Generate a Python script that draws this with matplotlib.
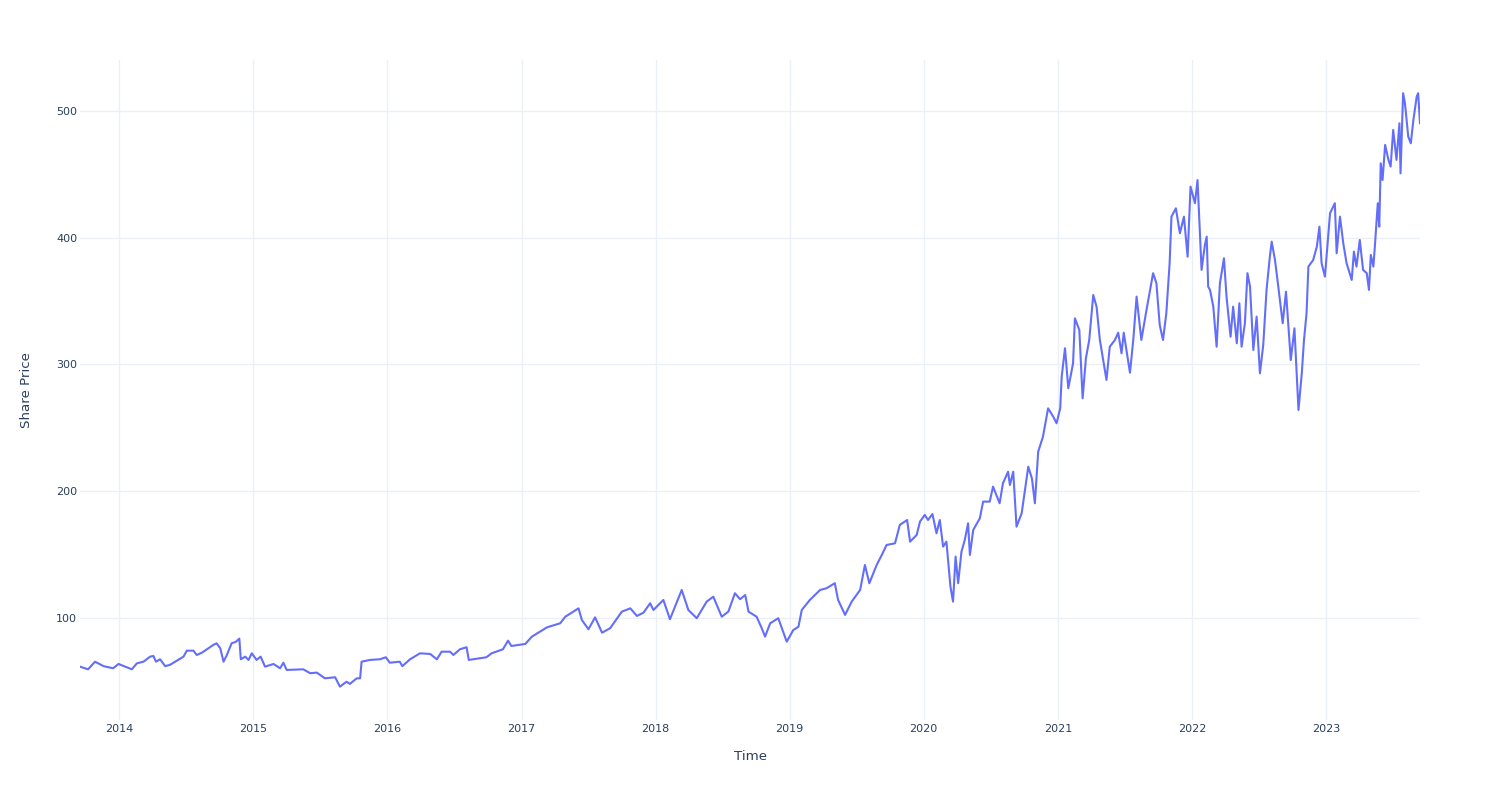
import matplotlib
matplotlib.use("Agg")
import matplotlib.pyplot as plt
import pandas as pd

dates = [
    "2013-09-16", "2013-10-08", "2013-10-27", "2013-11-19", "2013-12-15", "2013-12-30",
    "2014-02-04", "2014-02-18", "2014-03-08", "2014-03-26", "2014-04-04", "2014-04-11",
    "2014-04-22", "2014-05-06", "2014-05-19", "2014-06-25", "2014-07-04", "2014-07-22",
    "2014-07-31", "2014-08-14", "2014-09-14", "2014-09-23", "2014-10-03", "2014-10-12",
    "2014-10-21", "2014-11-03", "2014-11-15", "2014-11-24", "2014-11-28", "2014-12-10",
    "2014-12-19", "2014-12-28",
    "2015-01-10", "2015-01-21", "2015-02-02", "2015-02-25", "2015-03-15", "2015-03-24",
    "2015-04-02", "2015-05-17", "2015-06-05", "2015-06-23", "2015-07-15", "2015-08-12",
    "2015-08-25", "2015-09-12", "2015-09-21", "2015-10-10", "2015-10-19", "2015-10-23",
    "2015-11-15", "2015-12-12", "2015-12-28",
    "2016-01-08", "2016-02-04", "2016-02-11", "2016-03-03", "2016-03-30", "2016-04-27",
    "2016-05-15", "2016-05-28", "2016-06-20", "2016-06-29", "2016-07-17", "2016-08-04",
    "2016-08-10", "2016-09-27", "2016-10-11", "2016-11-11", "2016-11-25", "2016-12-04",
    "2017-01-11", "2017-01-29", "2017-03-11", "2017-04-16", "2017-04-30", "2017-06-05",
    "2017-06-14", "2017-07-02", "2017-07-20", "2017-08-08", "2017-08-30", "2017-10-01",
    "2017-10-24", "2017-11-11", "2017-11-29", "2017-12-17", "2017-12-26",
    "2018-01-22", "2018-02-09", "2018-03-13", "2018-03-31", "2018-04-23", "2018-05-20",
    "2018-06-07", "2018-06-30", "2018-07-18", "2018-08-05", "2018-08-19", "2018-09-02",
    "2018-09-11", "2018-10-03", "2018-10-17", "2018-10-26", "2018-11-09", "2018-12-01",
    "2018-12-24",
    "2019-01-11", "2019-01-25", "2019-02-03", "2019-02-25", "2019-03-25", "2019-04-11",
    "2019-05-04", "2019-05-13", "2019-06-01", "2019-06-19", "2019-07-12", "2019-07-25",
    "2019-08-06", "2019-08-26", "2019-09-09", "2019-09-22", "2019-10-15", "2019-10-28",
    "2019-11-17", "2019-11-25", "2019-12-13", "2019-12-22",
    "2020-01-04", "2020-01-13", "2020-01-25", "2020-02-05", "2020-02-14", "2020-02-23",
    "2020-03-03", "2020-03-14", "2020-03-21", "2020-03-28", "2020-04-04", "2020-04-13",
    "2020-04-22", "2020-05-01", "2020-05-06", "2020-05-15", "2020-06-02", "2020-06-11",
    "2020-06-29", "2020-07-08", "2020-07-26", "2020-08-04", "2020-08-18", "2020-08-23",
    "2020-09-01", "2020-09-10", "2020-09-24", "2020-10-12", "2020-10-22", "2020-10-30",
    "2020-11-08", "2020-11-21", "2020-12-05", "2020-12-19", "2020-12-28",
    "2021-01-07", "2021-01-11", "2021-01-20", "2021-01-29", "2021-02-11", "2021-02-16",
    "2021-02-28", "2021-03-09", "2021-03-18", "2021-03-27", "2021-04-07", "2021-04-16",
    "2021-04-25", "2021-05-13", "2021-05-22", "2021-06-05", "2021-06-14", "2021-06-23",
    "2021-06-29", "2021-07-16", "2021-07-25", "2021-08-03", "2021-08-16", "2021-08-30",
    "2021-09-17", "2021-09-26", "2021-10-05", "2021-10-14", "2021-10-23", "2021-11-01",
    "2021-11-06", "2021-11-18", "2021-11-29", "2021-12-10", "2021-12-20", "2021-12-28",
    "2022-01-09", "2022-01-16", "2022-01-20", "2022-01-27", "2022-02-05", "2022-02-10",
    "2022-02-14", "2022-02-19", "2022-02-28", "2022-03-09", "2022-03-18", "2022-03-29",
    "2022-04-05", "2022-04-16", "2022-04-23", "2022-05-03", "2022-05-10", "2022-05-16",
    "2022-05-25", "2022-06-01", "2022-06-08", "2022-06-17", "2022-06-26", "2022-07-05",
    "2022-07-14", "2022-07-23", "2022-08-01", "2022-08-06", "2022-08-15", "2022-08-24",
    "2022-09-05", "2022-09-14", "2022-09-20", "2022-09-27", "2022-10-07", "2022-10-18",
    "2022-10-27", "2022-11-02", "2022-11-09", "2022-11-14", "2022-11-27", "2022-12-07",
    "2022-12-14", "2022-12-20", "2022-12-29",
    "2023-01-12", "2023-01-25", "2023-01-30", "2023-02-08", "2023-02-17", "2023-02-26",
    "2023-03-12", "2023-03-18", "2023-03-25", "2023-04-03", "2023-04-12", "2023-04-22",
    "2023-04-28", "2023-05-03", "2023-05-10", "2023-05-14", "2023-05-22", "2023-05-26",
    "2023-05-30", "2023-06-04", "2023-06-11", "2023-06-20", "2023-06-26", "2023-07-03",
    "2023-07-12", "2023-07-20", "2023-07-23", "2023-07-30", "2023-08-04", "2023-08-13",
    "2023-08-20", "2023-08-27", "2023-09-05", "2023-09-09", "2023-09-14",
]

prices = [
    61.6, 59.5, 65.5, 62.0, 60.3, 63.7,
    59.5, 64.2, 65.5, 69.5, 70.0, 65.5,
    67.4, 62.0, 63.0, 69.5, 74.2, 74.2,
    70.8, 72.6, 78.7, 80.0, 76.1, 65.5,
    70.8, 80.0, 81.3, 83.7, 67.4, 69.5,
    66.9, 72.1,
    66.9, 69.5, 61.6, 63.7, 60.3, 64.7,
    59.0, 59.5, 56.4, 56.9, 52.4, 53.2,
    45.8, 49.7, 48.0, 52.4, 52.4, 65.5,
    66.9, 67.4, 69.0,
    64.7, 65.5, 62.0, 67.4, 72.1, 71.6,
    67.4, 73.4, 73.4, 70.8, 75.3, 76.9,
    66.9, 69.0, 72.1, 75.3, 82.1, 77.9,
    79.5, 85.3, 92.6, 95.8, 101.0, 107.6,
    98.4, 91.1, 100.5, 88.4, 91.9, 105.0,
    107.6, 101.6, 104.2, 111.6, 106.3,
    114.2, 99.0, 122.1, 106.3, 99.8, 112.9,
    116.8, 101.0, 105.0, 119.5, 114.8, 118.1,
    105.0, 101.0, 91.9, 85.3, 95.8, 99.8,
    81.3,
    90.5, 93.1, 106.3, 114.2, 122.1, 123.4,
    127.4, 114.2, 102.4, 112.9, 122.1, 141.8,
    127.4, 141.8, 149.7, 157.6, 158.9, 173.4,
    177.3, 160.2, 165.5, 176.0,
    181.3, 177.3, 182.0, 166.8, 177.3, 156.3,
    160.2, 124.7, 112.9, 148.4, 127.4, 152.3,
    161.5, 174.7, 149.7, 169.4, 178.6, 191.8,
    191.8, 203.6, 190.5, 206.3, 215.4, 204.9,
    215.4, 172.0, 182.6, 219.4, 210.0, 190.5,
    231.2, 243.0, 265.4, 258.8, 253.6,
    265.4, 290.4, 312.8, 281.2, 301.0, 336.4,
    327.2, 273.3, 304.9, 319.3, 354.8, 345.6,
    319.3, 287.8, 314.0, 319.3, 325.1, 308.8,
    325.1, 293.5, 319.3, 353.5, 319.3, 343.0,
    372.0, 364.1, 331.2, 319.3, 340.4, 379.9,
    416.6, 423.2, 403.5, 416.6, 385.0, 440.3,
    427.2, 445.5, 419.3, 374.6, 394.3, 400.8,
    361.4, 358.8, 345.6, 314.0, 364.1, 383.8,
    353.5, 321.9, 345.6, 316.7, 348.3, 314.0,
    332.5, 372.0, 361.4, 311.4, 337.7, 293.0,
    315.4, 358.8, 385.0, 396.9, 382.4, 361.4,
    332.5, 357.4, 332.5, 303.5, 328.5, 264.1,
    293.0, 319.3, 340.4, 377.2, 382.4, 392.9,
    408.7, 379.9, 369.3,
    419.3, 427.2, 387.7, 416.6, 395.6, 379.9,
    366.7, 389.0, 377.2, 398.2, 374.6, 372.0,
    358.8, 386.4, 377.2, 392.9, 427.2, 408.7,
    458.7, 445.5, 473.2, 461.4, 456.1, 485.0,
    461.4, 490.3, 450.8, 514.0, 506.1, 479.7,
    474.5, 492.9, 511.3, 514.0, 490.3,
]

y_ticks = [100, 200, 300, 400, 500]
x_tick_years = list(range(2014, 2024))

x_title = "Time"
y_title = "Share Price"

df = pd.DataFrame({"date": pd.to_datetime(dates), "price": prices})

TEXT = "#2a3f5f"
GRID = "#EBF0F8"
LINE = "#636efa"
FONT = ["DejaVu Sans"]

fig = plt.figure(figsize=(15, 8), dpi=100)
fig.patch.set_facecolor("white")
ax = fig.add_axes([80 / 1500, 1 - 720 / 800, 1340 / 1500, 660 / 800])
ax.set_facecolor("white")

ax.plot(df["date"], df["price"], color=LINE, lw=1.5, solid_joinstyle="round", zorder=3)

ax.set_xlim(df["date"].min(), df["date"].max())
ax.set_ylim(19.5, 540.2)

ax.set_yticks(y_ticks)
ax.set_yticklabels([str(v) for v in y_ticks])
ax.set_xticks([pd.Timestamp(f"{y}-01-01") for y in x_tick_years])
ax.set_xticklabels([str(y) for y in x_tick_years])

ax.grid(True, color=GRID, lw=1.0, zorder=0)
ax.set_axisbelow(True)
for s in ax.spines.values():
    s.set_visible(False)
ax.tick_params(axis="both", length=0, colors=TEXT, labelsize=8)
ax.tick_params(axis="y", pad=2)
ax.tick_params(axis="x", pad=3)
for lbl in ax.get_xticklabels() + ax.get_yticklabels():
    lbl.set_family(FONT)

fig.text(750 / 1500, 1 - 756 / 800, x_title, ha="center", va="center",
         color=TEXT, fontsize=9.6, family=FONT)
fig.text(27 / 1500, 1 - 390 / 800, y_title, ha="center", va="center", rotation=90,
         color=TEXT, fontsize=9.6, family=FONT)

fig.savefig("out.png", dpi=100, facecolor="white")
